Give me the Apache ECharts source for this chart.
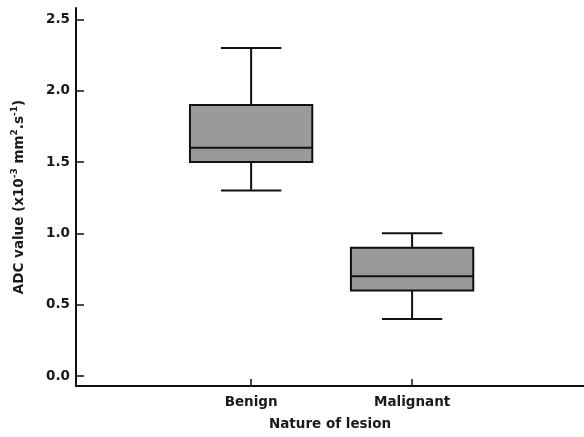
<!DOCTYPE html>
<html>
<head>
<meta charset="utf-8">
<script src="https://cdn.jsdelivr.net/npm/echarts@6/dist/echarts.min.js"></script>
<style>html,body{margin:0;padding:0;background:#fff}#c{width:584px;height:437px}</style>
</head>
<body>
<div id="c"></div>
<script>
var categories = ['Benign', 'Malignant'];
var xPositions = [1, 2];
var minVals = [1.3, 0.4];
var q1Vals = [1.5, 0.6];
var medianVals = [1.6, 0.7];
var q3Vals = [1.9, 0.9];
var maxVals = [2.3, 1.0];
var yTicks = [0, 0.5, 1.0, 1.5, 2.0, 2.5];

var FONT = '"DejaVu Sans", sans-serif';
var TXT = '#1a1a1a';
var data = categories.map(function (c, i) {
  return [xPositions[i], minVals[i], q1Vals[i], medianVals[i], q3Vals[i], maxVals[i]];
});

function renderItem(params, api) {
  var x = api.value(0);
  var pMin = api.coord([x, api.value(1)]);
  var pQ1 = api.coord([x, api.value(2)]);
  var pMed = api.coord([x, api.value(3)]);
  var pQ3 = api.coord([x, api.value(4)]);
  var pMax = api.coord([x, api.value(5)]);
  var boxW = api.size([0.76, 0])[0];
  var capW = api.size([0.375, 0])[0];
  var cx = pMed[0];
  var ls = { stroke: '#111', lineWidth: 2 };
  return {
    type: 'group',
    children: [
      { type: 'line', shape: { x1: cx, y1: pMax[1], x2: cx, y2: pQ3[1] }, style: ls },
      { type: 'line', shape: { x1: cx, y1: pQ1[1], x2: cx, y2: pMin[1] }, style: ls },
      { type: 'line', shape: { x1: cx - capW / 2, y1: pMax[1], x2: cx + capW / 2, y2: pMax[1] }, style: ls },
      { type: 'line', shape: { x1: cx - capW / 2, y1: pMin[1], x2: cx + capW / 2, y2: pMin[1] }, style: ls },
      { type: 'rect', shape: { x: cx - boxW / 2, y: pQ3[1], width: boxW, height: pQ1[1] - pQ3[1] },
        style: { fill: '#9a9a9a', stroke: '#111', lineWidth: 2 } },
      { type: 'line', shape: { x1: cx - boxW / 2, y1: pMed[1], x2: cx + boxW / 2, y2: pMed[1] }, style: ls }
    ]
  };
}

var chart = echarts.init(document.getElementById('c'));
chart.setOption({
  animation: false,
  backgroundColor: '#fff',
  grid: { left: 76, right: 0, top: 8, bottom: 51, containLabel: false, outerBoundsMode: 'none' },
  xAxis: {
    type: 'value',
    min: -0.088,
    max: 3.068,
    name: 'Nature of lesion',
    nameLocation: 'middle',
    nameGap: 31,
    nameTextStyle: { fontFamily: FONT, fontWeight: 'bold', fontSize: 13.5, color: TXT },
    splitLine: { show: false },
    axisLine: { show: true, onZero: false, lineStyle: { color: '#111', width: 2 } },
    axisTick: { show: true, inside: true, length: 7, customValues: xPositions, lineStyle: { color: '#111', width: 1.5 } },
    axisLabel: {
      customValues: xPositions,
      margin: 9,
      fontFamily: FONT, fontWeight: 'bold', fontSize: 13.5, color: TXT,
      formatter: function (v) { return categories[xPositions.indexOf(v)] || ''; }
    }
  },
  yAxis: {
    type: 'value',
    min: -0.07,
    max: 2.58,
    name: '{n|ADC value (x10}{s|-3}{n| mm}{s|2}{n|.s}{s|-1}{n|)}',
    nameLocation: 'middle',
    nameGap: 50,
    nameTextStyle: {
      fontFamily: FONT, fontWeight: 'bold', fontSize: 13.5, color: TXT,
      rich: {
        n: { fontFamily: FONT, fontWeight: 'bold', fontSize: 13.5, color: TXT, verticalAlign: 'bottom' },
        s: { fontFamily: FONT, fontWeight: 'bold', fontSize: 9, color: TXT, verticalAlign: 'top', padding: [0, 0, 7, 0] }
      }
    },
    splitLine: { show: false },
    axisLine: { show: true, onZero: false, lineStyle: { color: '#111', width: 2 } },
    axisTick: { show: true, inside: true, length: 8, customValues: yTicks, lineStyle: { color: '#111', width: 1.5 } },
    axisLabel: {
      customValues: yTicks,
      margin: 6,
      fontFamily: FONT, fontWeight: 'bold', fontSize: 13.5, color: TXT,
      formatter: function (v) { return v.toFixed(1); }
    }
  },
  series: [{
    type: 'custom',
    renderItem: renderItem,
    encode: { x: 0, y: [1, 2, 3, 4, 5] },
    data: data,
    clip: false
  }]
});
</script>
</body>
</html>
